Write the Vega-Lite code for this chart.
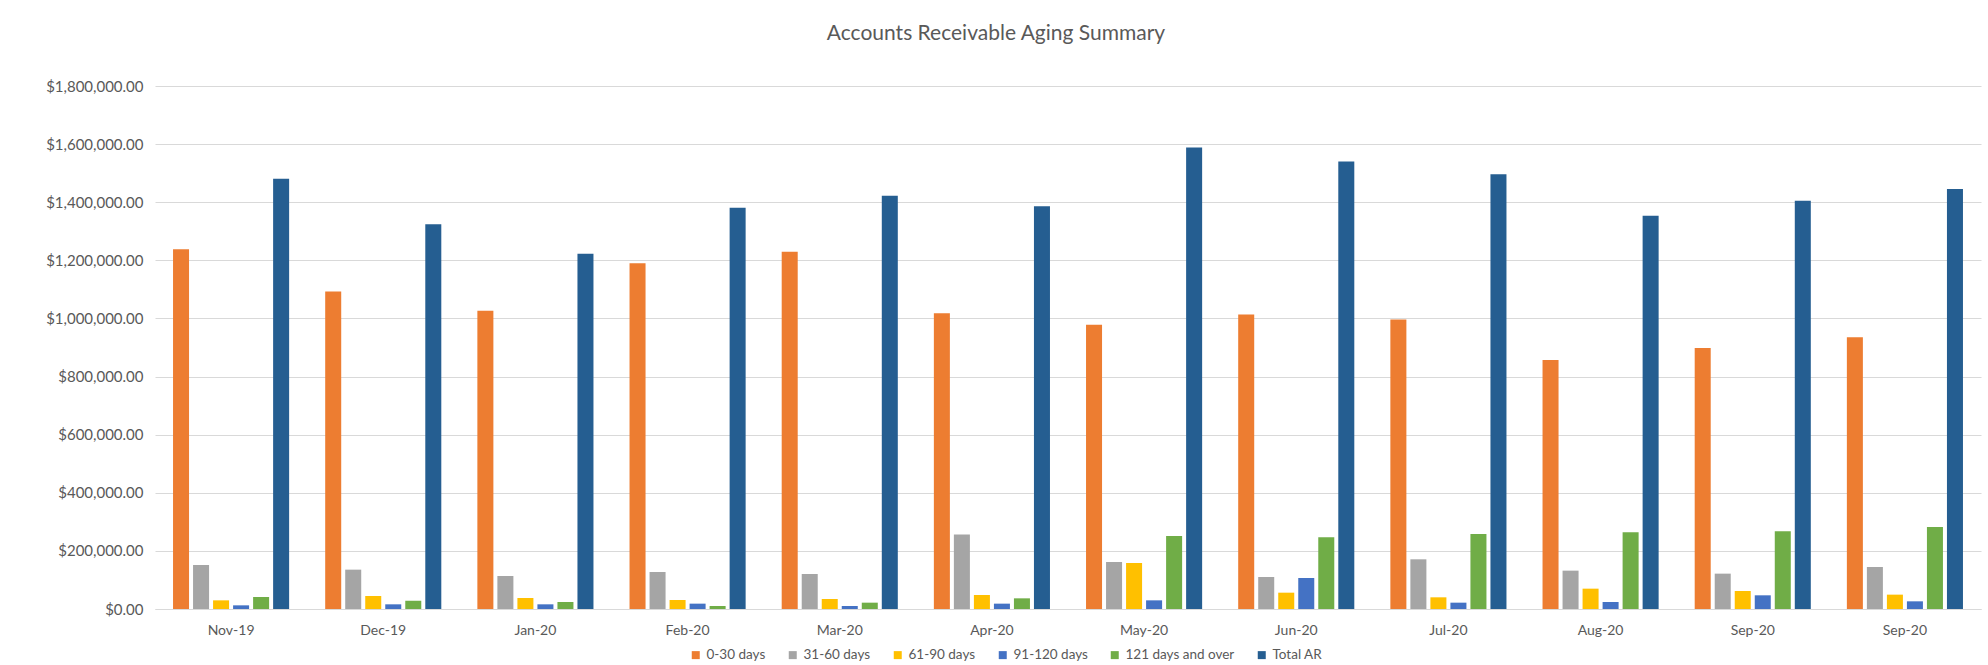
{
  "$schema": "https://vega.github.io/schema/vega-lite/v6.json",
  "autosize": "none",
  "width": 1826,
  "height": 523,
  "padding": {"left": 155, "top": 86, "right": 7, "bottom": 56},
  "background": "white",
  "title": {
    "text": "Accounts Receivable Aging Summary",
    "font": "Lato",
    "fontSize": 21,
    "fontWeight": "normal",
    "color": "#595959",
    "anchor": "middle",
    "frame": "group",
    "baseline": "bottom",
    "offset": 14,
    "dx": -72
  },
  "data": {
    "values": [
      {"month": "Nov-19", "bucket": "0-30 days", "amount": 1238400},
      {"month": "Nov-19", "bucket": "31-60 days", "amount": 151500},
      {"month": "Nov-19", "bucket": "61-90 days", "amount": 29800},
      {"month": "Nov-19", "bucket": "91-120 days", "amount": 12600},
      {"month": "Nov-19", "bucket": "121 days and over", "amount": 41300},
      {"month": "Nov-19", "bucket": "Total AR", "amount": 1480600},
      {"month": "Dec-19", "bucket": "0-30 days", "amount": 1092700},
      {"month": "Dec-19", "bucket": "31-60 days", "amount": 135400},
      {"month": "Dec-19", "bucket": "61-90 days", "amount": 44800},
      {"month": "Dec-19", "bucket": "91-120 days", "amount": 16100},
      {"month": "Dec-19", "bucket": "121 days and over", "amount": 28700},
      {"month": "Dec-19", "bucket": "Total AR", "amount": 1324500},
      {"month": "Jan-20", "bucket": "0-30 days", "amount": 1026100},
      {"month": "Jan-20", "bucket": "31-60 days", "amount": 113600},
      {"month": "Jan-20", "bucket": "61-90 days", "amount": 37900},
      {"month": "Jan-20", "bucket": "91-120 days", "amount": 16100},
      {"month": "Jan-20", "bucket": "121 days and over", "amount": 24100},
      {"month": "Jan-20", "bucket": "Total AR", "amount": 1222400},
      {"month": "Feb-20", "bucket": "0-30 days", "amount": 1190300},
      {"month": "Feb-20", "bucket": "31-60 days", "amount": 127400},
      {"month": "Feb-20", "bucket": "61-90 days", "amount": 31000},
      {"month": "Feb-20", "bucket": "91-120 days", "amount": 18400},
      {"month": "Feb-20", "bucket": "121 days and over", "amount": 10300},
      {"month": "Feb-20", "bucket": "Total AR", "amount": 1380800},
      {"month": "Mar-20", "bucket": "0-30 days", "amount": 1229300},
      {"month": "Mar-20", "bucket": "31-60 days", "amount": 120500},
      {"month": "Mar-20", "bucket": "61-90 days", "amount": 34400},
      {"month": "Mar-20", "bucket": "91-120 days", "amount": 10300},
      {"month": "Mar-20", "bucket": "121 days and over", "amount": 21800},
      {"month": "Mar-20", "bucket": "Total AR", "amount": 1422100},
      {"month": "Apr-20", "bucket": "0-30 days", "amount": 1018100},
      {"month": "Apr-20", "bucket": "31-60 days", "amount": 256000},
      {"month": "Apr-20", "bucket": "61-90 days", "amount": 48200},
      {"month": "Apr-20", "bucket": "91-120 days", "amount": 18400},
      {"month": "Apr-20", "bucket": "121 days and over", "amount": 36700},
      {"month": "Apr-20", "bucket": "Total AR", "amount": 1386500},
      {"month": "May-20", "bucket": "0-30 days", "amount": 977900},
      {"month": "May-20", "bucket": "31-60 days", "amount": 161800},
      {"month": "May-20", "bucket": "61-90 days", "amount": 158400},
      {"month": "May-20", "bucket": "91-120 days", "amount": 29800},
      {"month": "May-20", "bucket": "121 days and over", "amount": 251400},
      {"month": "May-20", "bucket": "Total AR", "amount": 1588600},
      {"month": "Jun-20", "bucket": "0-30 days", "amount": 1013500},
      {"month": "Jun-20", "bucket": "31-60 days", "amount": 110200},
      {"month": "Jun-20", "bucket": "61-90 days", "amount": 56200},
      {"month": "Jun-20", "bucket": "91-120 days", "amount": 106700},
      {"month": "Jun-20", "bucket": "121 days and over", "amount": 246800},
      {"month": "Jun-20", "bucket": "Total AR", "amount": 1540400},
      {"month": "Jul-20", "bucket": "0-30 days", "amount": 996300},
      {"month": "Jul-20", "bucket": "31-60 days", "amount": 171000},
      {"month": "Jul-20", "bucket": "61-90 days", "amount": 40200},
      {"month": "Jul-20", "bucket": "91-120 days", "amount": 21800},
      {"month": "Jul-20", "bucket": "121 days and over", "amount": 258300},
      {"month": "Jul-20", "bucket": "Total AR", "amount": 1496700},
      {"month": "Aug-20", "bucket": "0-30 days", "amount": 857400},
      {"month": "Aug-20", "bucket": "31-60 days", "amount": 132000},
      {"month": "Aug-20", "bucket": "61-90 days", "amount": 70000},
      {"month": "Aug-20", "bucket": "91-120 days", "amount": 24100},
      {"month": "Aug-20", "bucket": "121 days and over", "amount": 264000},
      {"month": "Aug-20", "bucket": "Total AR", "amount": 1353300},
      {"month": "Sep-20", "bucket": "0-30 days", "amount": 898700},
      {"month": "Sep-20", "bucket": "31-60 days", "amount": 121700},
      {"month": "Sep-20", "bucket": "61-90 days", "amount": 62000},
      {"month": "Sep-20", "bucket": "91-120 days", "amount": 47100},
      {"month": "Sep-20", "bucket": "121 days and over", "amount": 267400},
      {"month": "Sep-20", "bucket": "Total AR", "amount": 1404900},
      {"month": "Sep-20 (2)", "bucket": "0-30 days", "amount": 935500},
      {"month": "Sep-20 (2)", "bucket": "31-60 days", "amount": 144600},
      {"month": "Sep-20 (2)", "bucket": "61-90 days", "amount": 49400},
      {"month": "Sep-20 (2)", "bucket": "91-120 days", "amount": 26400},
      {"month": "Sep-20 (2)", "bucket": "121 days and over", "amount": 282400},
      {"month": "Sep-20 (2)", "bucket": "Total AR", "amount": 1445100}
    ]
  },
  "mark": {"type": "bar"},
  "encoding": {
    "x": {
      "field": "month",
      "type": "nominal",
      "sort": null,
      "scale": {"paddingInner": 0.237, "paddingOuter": 0.1185},
      "axis": {
        "title": null,
        "labelAngle": 0,
        "labelExpr": "datum.label == 'Sep-20 (2)' ? 'Sep-20' : datum.label",
        "labelFont": "Lato",
        "labelFontSize": 14,
        "labelColor": "#595959",
        "labelPadding": 14,
        "ticks": false,
        "domainColor": "#d9d9d9",
        "domainWidth": 1,
        "grid": false
      }
    },
    "xOffset": {
      "field": "bucket",
      "type": "nominal",
      "sort": ["0-30 days", "31-60 days", "61-90 days", "91-120 days", "121 days and over", "Total AR"],
      "scale": {"paddingInner": 0.2, "paddingOuter": 0}
    },
    "y": {
      "field": "amount",
      "type": "quantitative",
      "scale": {"domain": [0, 1800000], "nice": false},
      "axis": {
        "title": null,
        "values": [0, 200000, 400000, 600000, 800000, 1000000, 1200000, 1400000, 1600000, 1800000],
        "format": "$,.2f",
        "labelFont": "Lato",
        "labelFontSize": 15,
        "labelColor": "#595959",
        "labelPadding": 12,
        "ticks": false,
        "domain": false,
        "grid": true,
        "gridColor": "#d9d9d9",
        "gridWidth": 1
      }
    },
    "color": {
      "field": "bucket",
      "type": "nominal",
      "sort": ["0-30 days", "31-60 days", "61-90 days", "91-120 days", "121 days and over", "Total AR"],
      "scale": {
        "domain": ["0-30 days", "31-60 days", "61-90 days", "91-120 days", "121 days and over", "Total AR"],
        "range": ["#ED7D31", "#A5A5A5", "#FFC000", "#4472C4", "#70AD47", "#255E91"]
      },
      "legend": {
        "title": null,
        "orient": "none",
        "direction": "horizontal",
        "legendX": 534,
        "legendY": 562,
        "symbolType": "square",
        "symbolSize": 64,
        "symbolStrokeWidth": 0,
        "labelFont": "Lato",
        "labelFontSize": 13.5,
        "labelColor": "#595959",
        "labelOffset": 4,
        "columnPadding": 20
      }
    }
  },
  "config": {
    "view": {"stroke": null}
  }
}
